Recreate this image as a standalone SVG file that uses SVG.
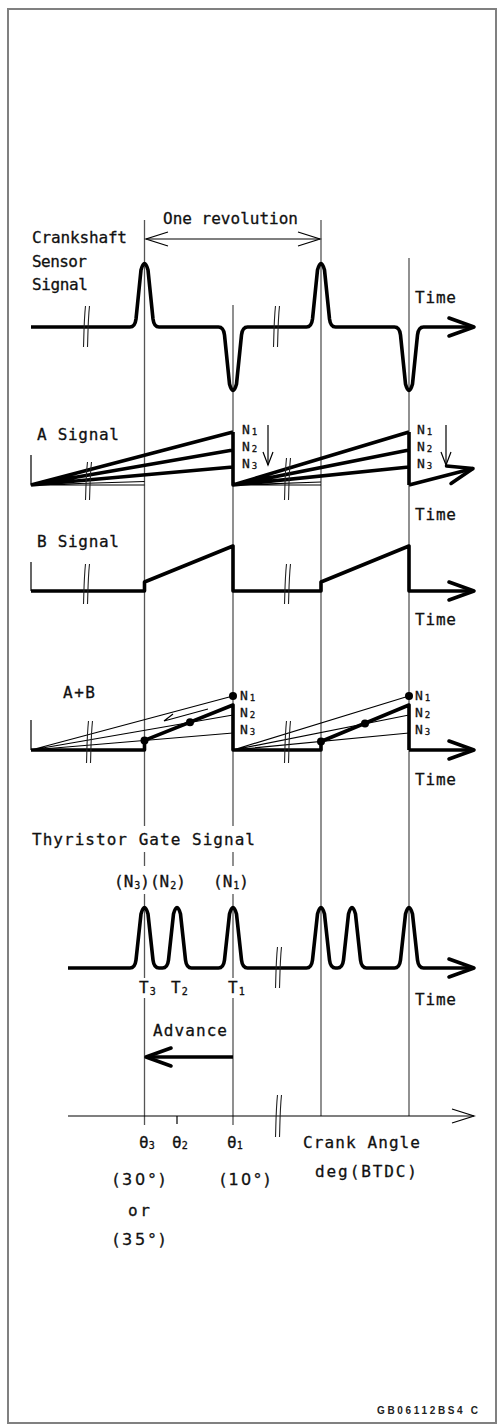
<svg xmlns="http://www.w3.org/2000/svg" width="498" height="1426" viewBox="0 0 498 1426">
<style>
.t{font-family:"DejaVu Sans Mono","Liberation Mono",monospace;font-size:16px;fill:#111;stroke:#111;stroke-width:0.3}
.n{font-size:13px}
.d{font-family:"DejaVu Sans","Liberation Sans",sans-serif}
.s{font-size:10px}
.ns{font-size:9px}
.f{font-family:"Liberation Sans",Arial,sans-serif;font-size:10px;font-weight:bold;fill:#222}
.sig{fill:none;stroke:#000;stroke-width:3.6;stroke-linejoin:round;stroke-linecap:butt}
.thin{fill:none;stroke:#000;stroke-width:1.2}
.ref{fill:none;stroke:#555;stroke-width:1.3}
.brk{fill:none;stroke:#222;stroke-width:1.1}
</style>
<defs>
<marker id="bigArrow" markerUnits="userSpaceOnUse" viewBox="-28 -12 32 24" refX="0" refY="0" markerWidth="32" markerHeight="24" orient="auto">
<path d="M-25,-9 L0,0 L-25,9" fill="none" stroke="#000" stroke-width="3.6" stroke-linecap="round" stroke-linejoin="round"/>
</marker>
<marker id="thinArrow" markerUnits="userSpaceOnUse" viewBox="-24 -10 26 20" refX="0" refY="0" markerWidth="26" markerHeight="20" orient="auto-start-reverse">
<path d="M-22,-7 L0,0 L-22,7" fill="none" stroke="#000" stroke-width="1.2"/>
</marker>
<marker id="smallArrow" markerUnits="userSpaceOnUse" viewBox="-14 -7 16 14" refX="0" refY="0" markerWidth="16" markerHeight="14" orient="auto">
<path d="M-13,-5 L0,0 L-13,5" fill="none" stroke="#000" stroke-width="1.2"/>
</marker>
</defs>
<rect width="498" height="1426" fill="#fff"/>
<g id="frame"><rect x="8" y="9" width="488" height="1414" fill="none" stroke="#808080" stroke-width="2"/></g>

<g id="connectors">
<path class="ref" d="M144.5,220 V826 M144.5,852 V866 M144.5,894 V978 M144.5,998 V1125"/>
<path class="ref" d="M233,305 V826 M233,852 V866 M233,894 V978 M233,998 V1125"/>
<path class="ref" d="M321,220 V1116"/>
<path class="ref" d="M409,258 V1116"/>
<line x1="146" y1="239" x2="320" y2="239" class="thin" marker-start="url(#thinArrow)" marker-end="url(#thinArrow)"/>
<line x1="233" y1="1057" x2="146" y2="1057" class="sig" marker-end="url(#bigArrow)"/>
</g>

<g id="crank-signal">
<path class="sig" marker-end="url(#bigArrow)" d="M31,327 L130,327 Q135,327 136,319 L141,270 Q144.5,257 148,270 L153,319 Q154,327 159,327 L218.5,327 Q223.5,327 224.5,335 L229.5,384 Q233,397 236.5,384 L241.5,335 Q242.5,327 247.5,327 L306.5,327 Q311.5,327 312.5,319 L317.5,270 Q321,257 324.5,270 L329.5,319 Q330.5,327 335.5,327 L394.5,327 Q399.5,327 400.5,335 L405.5,384 Q409,397 412.5,384 L417.5,335 Q418.5,327 423.5,327 L474,327"/>
<path class="brk" d="M85.5,306 C84,320 84,333 83.5,347 M89.5,306 C88,320 88,333 87.5,347"/>
<path class="brk" d="M275.5,306 C274,320 274,333 273.5,347 M279.5,306 C278,320 278,333 277.5,347"/>
<text class="t" x="163" y="224" textLength="135">One revolution</text>
<text class="t" x="32" y="243" textLength="95">Crankshaft</text>
<text class="t" x="32" y="267" textLength="55">Sensor</text>
<text class="t" x="32" y="290" textLength="56">Signal</text>
<text class="t" x="415" y="303" textLength="41">Time</text>
</g>

<g id="a-signal">
<path class="thin" d="M31,455 V485 H144.5 M31,485 L144.5,481.5 M233,485 H321 M233,485 L321,482"/>
<path class="sig" d="M31,485 L233,432 M31,485 L233,450 M31,485 L233,467 M233,432 V485 L409,432 M233,485 L409,450 M233,485 L409,467 M409,432 V485"/>
<path class="sig" marker-end="url(#bigArrow)" d="M409,485 L473,468.5"/>
<path class="brk" d="M87.5,462 C86,475 86,488 85.5,500 M91.5,462 C90,475 90,488 89.5,500"/>
<path class="brk" d="M286.5,458 C285,472 285,486 284.5,500 M290.5,458 C289,472 289,486 288.5,500"/>
<line x1="268" y1="425" x2="268" y2="465" class="thin" marker-end="url(#smallArrow)"/>
<line x1="446" y1="425" x2="446" y2="465" class="thin" marker-end="url(#smallArrow)"/>
<text class="t" x="37" y="440" textLength="82">A Signal</text>
<text class="t n" x="242" y="434">N<tspan class="ns" dx="2" dy="1">1</tspan></text>
<text class="t n" x="242" y="451">N<tspan class="ns" dx="2" dy="1">2</tspan></text>
<text class="t n" x="242" y="468">N<tspan class="ns" dx="2" dy="1">3</tspan></text>
<text class="t n" x="417" y="434">N<tspan class="ns" dx="2" dy="1">1</tspan></text>
<text class="t n" x="417" y="451">N<tspan class="ns" dx="2" dy="1">2</tspan></text>
<text class="t n" x="417" y="468">N<tspan class="ns" dx="2" dy="1">3</tspan></text>
<text class="t" x="415" y="520" textLength="41">Time</text>
</g>

<g id="b-signal">
<path class="thin" d="M31,562 V591"/>
<path class="sig" marker-end="url(#bigArrow)" d="M31,591 H144.5 V582 L233,546 V591 H321 V582 L409,546 V591 H474"/>
<path class="brk" d="M85.5,564 C84,578 84,591 83.5,604 M89.5,564 C88,578 88,591 87.5,604"/>
<path class="brk" d="M286.5,564 C285,578 285,591 284.5,604 M290.5,564 C289,578 289,591 288.5,604"/>
<text class="t" x="37" y="547" textLength="82">B Signal</text>
<text class="t" x="415" y="625" textLength="41">Time</text>
</g>

<g id="ab-signal">
<path class="thin" d="M31,720 V750 M31,750 L233,696 M31,750 L233,715 M31,750 L233,733 M233,750 L409,696 M233,750 L409,715 M233,750 L409,733"/>
<path class="sig" d="M31,750 H144.5 V740.4 L233,705 V750 H321 V741.5 L409,705 V750"/>
<path class="sig" marker-end="url(#bigArrow)" d="M409,750 H474"/>
<path class="thin" d="M208,709 L164,721 M164,721 L173,714"/>
<circle cx="144.5" cy="740.4" r="4"/>
<circle cx="190" cy="722.3" r="4"/>
<circle cx="233" cy="696" r="4"/>
<circle cx="321" cy="741.5" r="4"/>
<circle cx="365" cy="723.5" r="4"/>
<circle cx="409" cy="696" r="4"/>
<path class="brk" d="M88.5,721 C87,735 87,749 86.5,763 M92.5,721 C91,735 91,749 90.5,763"/>
<path class="brk" d="M286.5,721 C285,735 285,749 284.5,763 M290.5,721 C289,735 289,749 288.5,763"/>
<text class="t" x="63" y="698" textLength="32">A+B</text>
<text class="t n" x="240" y="700">N<tspan class="ns" dx="2" dy="1">1</tspan></text>
<text class="t n" x="240" y="717">N<tspan class="ns" dx="2" dy="1">2</tspan></text>
<text class="t n" x="240" y="734">N<tspan class="ns" dx="2" dy="1">3</tspan></text>
<text class="t n" x="415" y="700">N<tspan class="ns" dx="2" dy="1">1</tspan></text>
<text class="t n" x="415" y="717">N<tspan class="ns" dx="2" dy="1">2</tspan></text>
<text class="t n" x="415" y="734">N<tspan class="ns" dx="2" dy="1">3</tspan></text>
<text class="t" x="415" y="785" textLength="41">Time</text>
</g>

<g id="gate-signal">
<path class="sig" marker-end="url(#bigArrow)" d="M68,968 L130,968 Q135,968 136,960 L141,914 Q144.5,901 148,914 L153,960 Q154,968 159,968 L162.5,968 Q167.5,968 168.5,960 L173.5,914 Q177,901 180.5,914 L185.5,960 Q186.5,968 191.5,968 L218.5,968 Q223.5,968 224.5,960 L229.5,914 Q233,901 236.5,914 L241.5,960 Q242.5,968 247.5,968 L306.5,968 Q311.5,968 312.5,960 L317.5,914 Q321,901 324.5,914 L329.5,960 Q330.5,968 335.5,968 L337.5,968 Q342.5,968 343.5,960 L348.5,914 Q352,901 355.5,914 L360.5,960 Q361.5,968 366.5,968 L394.5,968 Q399.5,968 400.5,960 L405.5,914 Q409,901 412.5,914 L417.5,960 Q418.5,968 423.5,968 L474,968"/>
<path class="brk" d="M277.5,947 C276,961 276,974 275.5,988 M281.5,947 C280,961 280,974 279.5,988"/>
<text class="t" x="32" y="845" textLength="223">Thyristor Gate Signal</text>
<text class="t" x="114" y="887">(N<tspan class="s" dx="1" dy="2">3</tspan><tspan dy="-2">)(N</tspan><tspan class="s" dx="1" dy="2">2</tspan><tspan dy="-2">)</tspan></text>
<text class="t" x="213" y="887">(N<tspan class="s" dx="1" dy="2">1</tspan><tspan dy="-2">)</tspan></text>
<text class="t" x="139" y="993">T<tspan class="s" dx="1" dy="2">3</tspan></text>
<text class="t" x="171" y="993">T<tspan class="s" dx="1" dy="2">2</tspan></text>
<text class="t" x="228" y="993">T<tspan class="s" dx="1" dy="2">1</tspan></text>
<text class="t" x="415" y="1005" textLength="41">Time</text>
<text class="t" x="153" y="1036" textLength="74">Advance</text>
</g>

<g id="angle-axis">
<line x1="68" y1="1116" x2="474" y2="1116" class="thin" marker-end="url(#thinArrow)"/>
<path class="thin" d="M177,1116 V1124"/>
<path class="brk" d="M277.5,1095 C276,1109 276,1123 275.5,1137 M281.5,1095 C280,1109 280,1123 279.5,1137"/>
<text class="t" x="139" y="1148">θ<tspan class="s" dy="1">3</tspan></text>
<text class="t" x="172" y="1148">θ<tspan class="s" dy="1">2</tspan></text>
<text class="t" x="227" y="1148">θ<tspan class="s" dy="1">1</tspan></text>
<text class="t" x="303" y="1148" textLength="117">Crank Angle</text>
<text class="t" x="315" y="1177" textLength="102">deg(BTDC)</text>
<text class="t d" x="113" y="1185" textLength="52">(30°)</text>
<text class="t d" x="220" y="1185" textLength="50">(10°)</text>
<text class="t" x="128" y="1216" textLength="22">or</text>
<text class="t d" x="113" y="1245" textLength="52">(35°)</text>
</g>

<g id="footer"><text class="f" x="377" y="1414" textLength="101">GB06112BS4 C</text></g>
</svg>
